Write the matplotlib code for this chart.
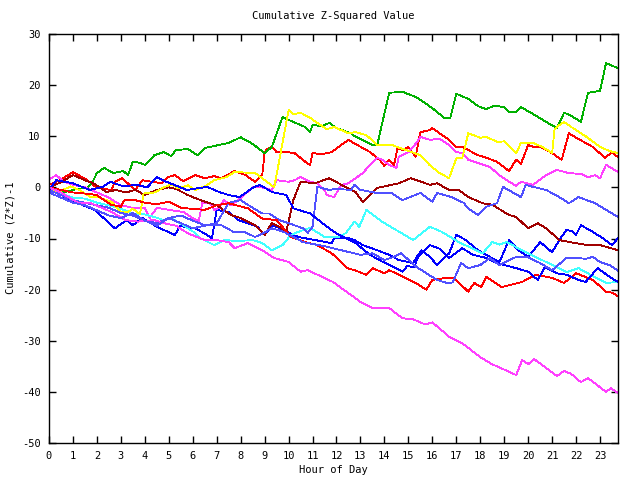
import matplotlib
matplotlib.use("Agg")
import matplotlib.pyplot as plt

title = "Cumulative Z-Squared Value"
xlabel = "Hour of Day"
ylabel = "Cumulative (Z*Z)-1"
xticks = list(range(0, 24))
yticks = list(range(-50, 31, 10))

green = [(0,0),(0.67,-0.9),(1.2,-0.3),(1.6,-0.1),(1.8,0.9),(2.0,2.8),(2.3,3.8),(2.7,2.8),(3.1,3.2),(3.3,2.4),
         (3.5,5.0),(3.8,4.8),(4.0,4.4),(4.4,6.3),(4.8,6.9),(5.1,6.1),(5.3,7.3),(5.8,7.5),(6.2,6.3),(6.5,7.7),
         (7.5,8.7),(8.0,9.8),(8.5,8.5),(9.0,6.7),(9.3,7.9),(9.5,10.5),(9.75,13.8),(10.0,13.2),(10.7,11.8),(10.9,10.8),
         (11.0,12.2),(11.4,12.0),(11.7,12.6),(12.0,11.6),(12.6,10.6),(12.8,9.9),(13.5,8.3),(13.7,8.3),(14.2,18.5),(14.75,18.7),
         (15.3,17.7),(15.5,17.1),(16.0,15.5),(16.5,13.6),(16.75,13.6),(17.0,18.3),(17.5,17.3),(17.9,15.9),(18.25,15.3),(18.6,16.0),
         (19.0,15.7),(19.2,14.8),(19.5,14.8),(19.7,15.7),(20.0,14.9),(20.4,13.8),(20.75,12.8),(21.2,11.6),(21.5,14.6),(21.8,14.0),
         (22.2,12.8),(22.5,18.5),(23.0,18.9),(23.25,24.3),(23.75,23.3)]

yellow = [(0,0),(0.4,-0.9),(0.9,0.2),(1.3,-0.6),(1.7,-1.8),(2.1,-2.0),(2.6,-2.8),(3.0,-4.8),(3.3,-4.8),(3.5,-4.2),
          (3.8,-5.2),(3.95,-1.2),(4.4,-1.0),(4.8,0.0),(5.1,0.6),(5.4,-0.2),(5.8,0.4),(6.1,-0.5),(6.5,0.2),(6.9,1.4),
          (7.4,2.0),(7.75,3.0),(8.6,2.8),(8.9,1.8),(9.4,0.0),(9.6,5.0),(10.0,15.1),(10.2,14.3),(10.5,14.6),(10.9,13.6),
          (11.2,12.6),(11.6,11.4),(11.9,11.8),(12.5,10.6),(12.8,10.8),(13.25,10.2),(13.7,8.3),(14.3,8.3),(14.9,7.3),(15.5,6.3),
          (15.9,4.3),(16.3,2.8),(16.7,1.8),(17.0,5.7),(17.25,5.7),(17.5,10.6),(18.0,9.7),(18.25,9.9),(18.7,8.9),(19.0,9.0),
          (19.5,6.7),(19.7,8.7),(20.2,8.7),(20.6,7.9),(21.0,6.7),(21.1,11.4),(21.3,12.2),(21.5,12.8),(21.8,11.8),(22.4,10.0),
          (23.0,7.9),(23.4,7.1),(23.75,6.7)]

red_upper = [(0,0.5),(0.5,1.5),(1.0,3.0),(1.6,1.4),(2.0,-0.1),(2.6,-0.5),(2.75,1.1),(3.05,1.8),(3.6,-0.5),(3.9,1.4),
             (4.7,0.8),(4.95,2.0),(5.25,2.4),(5.6,1.2),(6.1,2.4),(6.5,1.8),(6.9,2.2),(7.2,1.8),(7.75,3.2),(8.2,2.4),
             (8.6,1.1),(8.9,2.4),(9.0,6.7),(9.1,7.5),(9.3,7.9),(9.5,6.9),(9.8,7.0),(10.25,6.7),(10.7,5.0),(10.9,4.4),
             (11.0,6.7),(11.4,6.5),(11.8,6.9),(12.2,8.3),(12.5,9.3),(12.75,8.6),(13.4,6.9),(13.8,5.4),(14.0,4.2),(14.2,5.4),
             (14.4,4.4),(14.55,7.7),(14.75,7.3),(15.0,7.9),(15.3,6.0),(15.5,10.8),(15.9,11.2),(16.0,11.6),(16.3,10.6),(16.7,9.3),
             (17.0,7.9),(17.25,7.9),(17.5,7.3),(17.9,6.3),(18.25,5.8),(18.7,5.0),(19.2,3.2),(19.5,5.4),(19.7,4.6),(20.0,8.3),
             (20.25,7.9),(20.5,7.9),(21.0,6.7),(21.4,5.4),(21.7,10.6),(22.0,9.7),(22.4,8.7),(22.7,7.9),(23.2,5.8),(23.5,6.8),
             (23.75,5.9)]

magenta_upper = [(0,1.5),(0.3,2.4),(0.6,1.2),(1.0,0.5),(1.5,0.0),(2.0,-1.0),(2.5,-2.0),(3.0,-3.5),(3.5,-4.0),(4.0,-4.0),
                 (4.2,-6.0),(4.5,-4.0),(5.0,-4.4),(5.6,-4.8),(6.0,-6.0),(6.25,-6.6),(6.4,-3.0),(6.7,-3.0),(6.9,-4.4),(7.1,-4.0),
                 (7.3,-2.5),(7.6,-3.5),(7.9,-2.5),(8.5,0.0),(8.9,0.0),(9.3,-0.5),(9.5,1.4),(10.0,1.1),(10.25,1.4),(10.5,2.0),
                 (10.9,1.1),(11.2,0.8),(11.5,-0.5),(11.6,-1.5),(11.9,-1.9),(12.2,0.5),(12.5,0.8),(12.8,1.8),(13.1,2.8),(13.4,4.4),
                 (13.7,5.8),(13.9,5.4),(14.2,4.4),(14.5,3.8),(14.6,6.0),(15.0,6.9),(15.3,8.5),(15.5,9.9),(15.9,9.3),(16.3,9.5),
                 (16.7,8.3),(17.0,6.9),(17.25,6.7),(17.5,5.4),(18.0,4.6),(18.4,4.0),(18.8,2.4),(19.2,1.1),(19.5,0.3),(19.7,1.1),
                 (20.2,0.5),(20.75,2.4),(21.2,3.4),(21.7,2.8),(22.25,2.6),(22.5,2.0),(22.8,2.4),(23.0,1.8),(23.25,4.4),(23.75,3.0)]

magenta_lower = [(0,0),(0.5,-1.0),(1.2,-3.0),(1.7,-3.0),(2.6,-4.8),(3.2,-6.4),(3.7,-6.7),(4.4,-6.4),(4.8,-7.0),(5.3,-7.5),
                 (5.8,-9.0),(6.5,-10.3),(7.0,-10.3),(7.5,-10.7),(7.75,-11.9),(8.3,-10.9),(8.9,-12.3),(9.4,-13.8),(10.0,-14.6),(10.5,-16.5),
                 (10.8,-16.2),(11.4,-17.5),(11.85,-18.5),(12.5,-20.7),(13.0,-22.4),(13.5,-23.6),(14.2,-23.6),(14.75,-25.6),(15.2,-25.8),(15.7,-26.8),
                 (16.0,-26.4),(16.7,-29.2),(17.25,-30.5),(18.0,-33.2),(18.5,-34.6),(19.5,-36.7),(19.75,-33.8),(20.0,-34.6),(20.25,-33.6),(20.6,-34.8),
                 (21.2,-36.9),(21.5,-35.9),(21.8,-36.5),(22.2,-38.1),(22.5,-37.3),(23.25,-40.0),(23.45,-39.3),(23.75,-40.2)]

cyan = [(0,-0.5),(0.5,-1.2),(1.0,-2.0),(1.5,-2.2),(2.0,-3.0),(2.5,-3.5),(3.0,-4.2),(3.5,-5.1),(4.0,-5.3),(4.4,-5.8),
        (4.8,-6.4),(5.1,-6.0),(5.6,-7.4),(6.1,-8.9),(6.3,-9.9),(6.9,-11.3),(7.3,-10.3),(7.9,-10.5),(8.5,-10.3),(8.9,-10.9),
        (9.3,-12.3),(9.75,-11.3),(10.1,-9.3),(10.4,-8.7),(10.9,-7.9),(11.5,-9.7),(12.1,-9.7),(12.4,-8.9),(12.75,-6.7),(12.95,-7.7),
        (13.25,-4.4),(13.9,-6.7),(15.2,-10.3),(15.9,-7.7),(16.4,-8.7),(17.1,-10.7),(18.1,-12.9),(18.5,-10.7),(18.8,-11.2),(19.1,-10.7),
        (19.75,-12.3),(20.3,-13.6),(21.2,-15.6),(21.6,-16.6),(22.1,-15.8),(22.6,-17.1),(23.25,-18.7),(23.75,-18.5)]

blue_mid_upper = [(0,-0.5),(0.5,-1.5),(1.0,-2.5),(1.5,-3.0),(2.0,-3.5),(2.5,-4.0),(3.0,-5.0),(3.5,-5.5),(4.0,-6.5),(4.5,-7.0),
                  (5.0,-6.0),(5.5,-7.0),(6.0,-8.0),(6.5,-7.5),(7.0,-7.0),(7.5,-3.0),(8.0,-2.5),(8.5,-4.0),(8.9,-5.1),(9.2,-5.1),
                  (9.5,-6.1),(9.6,-6.4),(10.0,-7.0),(10.6,-8.0),(10.8,-8.9),(11.0,-7.7),(11.2,0.1),(11.7,-0.5),(12.0,-0.3),(12.6,-0.5),
                  (12.75,0.5),(13.0,-0.5),(13.7,-1.1),(14.3,-1.1),(14.75,-2.5),(15.5,-1.1),(16.0,-2.8),(16.2,-1.1),(16.8,-1.9),(17.3,-3.0),
                  (17.5,-4.1),(17.9,-5.4),(18.25,-3.8),(18.7,-3.1),(18.95,0.1),(19.4,-1.1),(19.7,-1.9),(19.9,0.5),(20.2,0.1),(20.75,-0.5),
                  (21.3,-1.9),(21.7,-3.1),(22.1,-1.9),(22.8,-3.1),(23.25,-4.4),(23.75,-5.8)]

darkred = [(0,0),(0.5,1.0),(1.0,2.4),(1.5,1.4),(1.85,0.8),(2.4,-0.9),(2.8,-0.5),(3.2,-1.0),(3.6,-0.5),(4.0,-1.5),
           (4.5,-0.5),(5.0,0.0),(5.3,-0.3),(5.8,-1.5),(6.1,-2.1),(6.5,-2.8),(7.0,-3.5),(7.6,-5.4),(8.0,-6.0),(8.6,-7.4),
           (9.0,-9.3),(9.3,-7.0),(9.6,-7.7),(9.9,-8.7),(10.0,-6.7),(10.2,-2.5),(10.5,1.1),(11.1,0.8),(11.7,1.8),(12.4,0.0),
           (12.8,-0.9),(13.1,-2.9),(13.4,-1.5),(13.7,-0.1),(14.0,0.2),(14.6,0.8),(15.1,1.8),(15.9,0.5),(16.2,0.8),(16.7,-0.5),
           (17.1,-0.5),(17.5,-1.9),(18.1,-3.1),(18.5,-3.4),(19.2,-5.4),(19.5,-5.8),(20.0,-8.0),(20.4,-7.0),(20.75,-8.0),(21.3,-10.3),
           (21.5,-10.5),(22.1,-11.0),(22.5,-11.3),(23.0,-11.3),(23.75,-12.3)]

blue_a = [(0,-1.0),(0.5,-2.0),(1.2,-3.1),(1.9,-4.4),(2.75,-8.0),(3.25,-6.4),(3.5,-7.4),(3.9,-6.0),(4.5,-7.7),(5.25,-9.3),
          (5.5,-7.4),(5.8,-8.0),(6.1,-8.0),(6.6,-9.3),(6.8,-10.0),(7.0,-4.4),(7.5,-4.8),(7.9,-6.4),(8.7,-7.7),(9.0,-9.3),
          (9.3,-7.5),(9.5,-7.7),(10.4,-9.7),(11.1,-10.3),(11.8,-10.9),(11.9,-9.9),(12.5,-9.9),(12.75,-10.3),(13.1,-11.3),(13.7,-12.3),
          (14.2,-13.2),(14.6,-14.2),(15.2,-14.8),(15.35,-13.6),(15.55,-12.3),(15.9,-13.6),(16.2,-15.2),(16.7,-12.9),(17.0,-9.3),(17.4,-10.3),
          (17.9,-12.3),(18.4,-13.6),(18.8,-14.6),(19.2,-10.3),(19.6,-12.3),(20.0,-13.6),(20.5,-10.7),(21.0,-12.7),(21.3,-10.3),(21.6,-8.3),
          (21.85,-8.6),(22.0,-9.3),(22.2,-7.4),(22.7,-8.7),(23.1,-9.9),(23.5,-11.3),(23.75,-9.9)]

blue_b = [(0,-0.5),(0.3,1.4),(1.0,0.8),(1.7,-0.5),(2.25,0.1),(2.55,1.1),(3.1,0.2),(3.65,0.5),(4.1,0.0),(4.5,2.0),
          (4.9,1.1),(5.75,-0.5),(6.6,0.1),(7.1,-0.9),(7.5,-1.5),(7.96,-1.9),(8.5,-0.1),(8.8,0.5),(9.3,-0.9),(9.9,-1.5),
          (10.2,-4.1),(10.9,-5.1),(11.6,-7.7),(12.1,-9.3),(12.8,-10.9),(13.4,-13.2),(13.9,-14.5),(14.4,-15.6),(14.75,-16.5),(14.95,-15.4),
          (15.25,-15.6),(15.4,-13.6),(15.9,-11.3),(16.3,-12.0),(16.7,-13.8),(17.25,-11.9),(17.7,-13.2),(18.25,-13.8),(18.7,-14.8),(19.5,-15.8),
          (20.0,-16.5),(20.4,-18.1),(20.7,-15.6),(21.2,-16.8),(21.6,-17.1),(22.1,-18.1),(22.4,-18.5),(22.9,-15.8),(23.4,-17.5),(23.75,-18.5)]

blue_mid_lower = [(0,-1.0),(0.5,-2.0),(1.0,-3.0),(1.5,-3.5),(2.0,-4.5),(2.5,-5.5),(3.0,-6.0),(3.5,-5.0),(4.0,-6.5),(4.5,-7.5),
                  (5.0,-6.0),(5.5,-5.5),(6.0,-6.5),(6.5,-7.4),(7.2,-7.4),(7.7,-8.7),(8.2,-8.8),(8.6,-9.7),(9.0,-8.8),(9.3,-8.0),
                  (9.8,-8.7),(10.6,-10.7),(11.6,-11.6),(12.2,-12.3),(12.75,-12.9),(13.0,-13.2),(13.5,-12.9),(14.0,-14.2),(14.4,-13.6),(14.7,-12.9),
                  (15.35,-15.6),(15.75,-16.8),(16.2,-18.1),(16.6,-18.7),(16.85,-18.6),(17.2,-14.8),(17.5,-15.8),(18.0,-15.2),(18.4,-13.8),(18.8,-15.2),
                  (19.5,-13.6),(20.0,-13.7),(20.5,-14.8),(21.0,-16.2),(21.6,-13.8),(22.1,-13.8),(22.4,-14.0),(22.7,-13.6),(23.0,-14.6),(23.4,-15.2),
                  (23.75,-16.3)]

red_lower = [(0,0),(0.5,-0.5),(1.0,-1.0),(1.5,-1.2),(2.0,-1.5),(2.3,-2.5),(2.6,-3.4),(3.0,-3.8),(3.15,-2.5),(3.6,-2.5),
             (4.0,-3.0),(4.5,-3.3),(5.0,-2.8),(5.5,-4.0),(6.0,-4.2),(6.5,-4.4),(7.0,-3.5),(7.5,-3.1),(8.3,-4.1),(8.9,-6.1),
             (9.5,-6.4),(10.1,-9.7),(10.7,-10.7),(11.2,-11.3),(11.8,-12.9),(12.2,-14.6),(12.45,-15.8),(12.75,-16.2),(13.25,-17.1),(13.5,-15.8),
             (14.0,-16.8),(14.2,-16.2),(14.8,-17.5),(15.3,-18.7),(15.75,-20.0),(16.0,-18.1),(16.6,-17.7),(16.9,-17.7),(17.5,-20.4),(17.75,-18.7),
             (18.05,-19.5),(18.25,-17.5),(18.9,-19.5),(19.75,-18.5),(20.3,-17.1),(21.0,-17.7),(21.5,-18.7),(22.0,-16.8),(22.7,-18.1),(23.25,-20.4),
             (23.5,-20.6),(23.75,-21.3)]

series = [
    (red_upper, "#ff0000"),
    (green, "#00b000"),
    (blue_a, "#0000ff"),
    (magenta_upper, "#ff40ff"),
    (cyan, "#40ffff"),
    (darkred, "#a00000"),
    (yellow, "#ffff00"),
    (blue_mid_upper, "#5050ff"),
    (red_lower, "#ff0000"),
    (blue_b, "#0000ff"),
    (magenta_lower, "#ff40ff"),
    (blue_mid_lower, "#5050ff"),
]

fig = plt.figure(figsize=(6.4, 4.8), dpi=100)
ax = fig.add_axes([49/640, 1-443/480, (618-49)/640, (443-34)/480])
for data, col in series:
    xs = [p[0] for p in data]
    ys = [p[1] for p in data]
    ax.plot(xs, ys, color=col, linewidth=0.6, antialiased=False)

ax.set_xlim(0, 23.75)
ax.set_ylim(-50, 30)
ax.set_xticks(xticks)
ax.set_yticks(yticks)
font = {"family": "DejaVu Sans Mono", "size": 7.5}
ax.set_xticklabels([str(t) for t in xticks], fontdict=font)
ax.set_yticklabels([str(t) for t in yticks], fontdict=font)
ax.tick_params(direction="in", length=5, width=1, top=True, right=True, pad=6, colors="black")
for s in ax.spines.values():
    s.set_linewidth(1)
    s.set_color("black")
fig.text(333/640, 1-16/480, title, ha="center", va="center", fontdict=font)
fig.text(333/640, 1-470/480, xlabel, ha="center", va="center", fontdict=font)
fig.text(11/640, 1-238/480, ylabel, ha="center", va="center", rotation=90, fontdict=font)
fig.savefig("out.png", dpi=100)
